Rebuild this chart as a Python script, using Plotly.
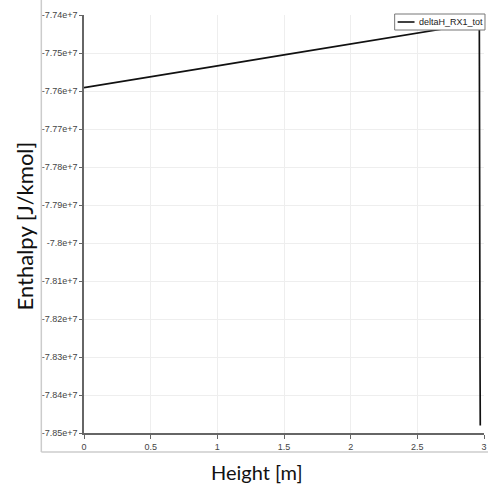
import plotly.graph_objects as go

# Data
height_m = [0.0, 0.5, 1.0, 1.5, 2.0, 2.5, 2.9, 2.965, 2.97, 2.972]
enthalpy = [-7.7591e7, -7.7563e7, -7.7534e7, -7.7505e7, -7.7477e7, -7.7448e7, -7.7425e7, -7.7421e7, -7.8300e7, -7.8480e7]
series_name = "deltaH_RX1_tot"

y_tickvals = [-7.74e7, -7.75e7, -7.76e7, -7.77e7, -7.78e7, -7.79e7, -7.80e7,
              -7.81e7, -7.82e7, -7.83e7, -7.84e7, -7.85e7]
y_ticktext = ["-7.74e+7", "-7.75e+7", "-7.76e+7", "-7.77e+7", "-7.78e+7", "-7.79e+7",
              "-7.8e+7", "-7.81e+7", "-7.82e+7", "-7.83e+7", "-7.84e+7", "-7.85e+7"]
x_tickvals = [0, 0.5, 1, 1.5, 2, 2.5, 3]
x_ticktext = ["0", "0.5", "1", "1.5", "2", "2.5", "3"]
x_title = "Height [m]"
y_title = "Enthalpy [J/kmol]"

W, H = 491, 486
L, R, T, B = 84, 4, 15, 53
pw, ph = W - L - R, H - T - B

def px(xp):
    return (xp - L) / pw

def py(yp):
    return (H - B - yp) / ph

fig = go.Figure()
fig.add_trace(go.Scatter(x=height_m, y=enthalpy, mode="lines", name=series_name,
                         line=dict(color="#111111", width=1.7), showlegend=False))

tickfont = dict(family="Liberation Sans, Arial, sans-serif", size=9, color="#444444")
titlefont = dict(family="Lato, Noto Sans, sans-serif", size=20, color="#111111")
ytitlefont = dict(family="Lato, Noto Sans, sans-serif", size=22, color="#111111")

fig.update_layout(
    width=W, height=H,
    margin=dict(l=L, r=R, t=T, b=B, pad=0),
    paper_bgcolor="white", plot_bgcolor="white",
    showlegend=False,
    xaxis=dict(range=[0, 3], tickvals=x_tickvals, ticktext=x_ticktext,
               showgrid=True, gridcolor="#eeeeee", gridwidth=1, zeroline=False,
               showline=True, linecolor="#666666", linewidth=1.5,
               ticks="outside", ticklen=4, tickcolor="#666666", tickwidth=1,
               tickfont=tickfont),
    yaxis=dict(range=[-7.85e7, -7.74e7], tickvals=y_tickvals, ticktext=y_ticktext,
               showgrid=True, gridcolor="#eeeeee", gridwidth=1, zeroline=False,
               showline=True, linecolor="#666666", linewidth=1.5,
               ticks="outside", ticklen=3, tickcolor="#666666", tickwidth=1,
               tickfont=tickfont),
)

# Axis titles
fig.add_annotation(text=x_title, xref="paper", yref="paper", x=px(258), y=py(472),
                   xanchor="center", yanchor="middle", showarrow=False, font=titlefont)
fig.add_annotation(text=y_title, xref="paper", yref="paper", x=px(24), y=py(226),
                   xanchor="center", yanchor="middle", textangle=-90, showarrow=False, font=ytitlefont)

# Light frame of the chart view (left and bottom edges)
fig.add_shape(type="line", xref="paper", yref="paper",
              x0=px(41), x1=px(41), y0=py(0), y1=py(452),
              line=dict(color="#cccccc", width=1.5))
fig.add_shape(type="line", xref="paper", yref="paper",
              x0=px(41), x1=px(491), y0=py(452), y1=py(452),
              line=dict(color="#cccccc", width=1.5))

# Compact legend box (as in the reference)
fig.add_shape(type="rect", xref="paper", yref="paper",
              x0=px(397), x1=px(488), y0=py(30), y1=py(14),
              fillcolor="white", line=dict(color="#777777", width=1))
fig.add_shape(type="line", xref="paper", yref="paper",
              x0=px(400), x1=px(417), y0=py(22), y1=py(22),
              line=dict(color="#111111", width=1.6))
fig.add_annotation(text=series_name, xref="paper", yref="paper", x=px(419), y=py(22),
                   xanchor="left", yanchor="middle", showarrow=False,
                   font=dict(family="Liberation Sans, Arial, sans-serif", size=9, color="#222222"))

fig.write_html("out.html")
